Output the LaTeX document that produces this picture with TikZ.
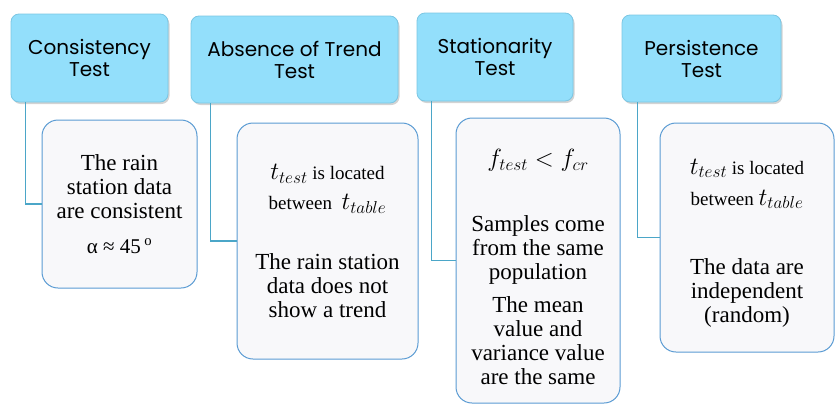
\documentclass[tikz,border=0pt]{standalone}
\usepackage{fontspec}
\setmainfont{Liberation Serif}
\newfontfamily\headfont{Poppins}
\usetikzlibrary{shadows}
\definecolor{headfill}{HTML}{93DFFB}
\definecolor{headline}{HTML}{7BC6E3}
\definecolor{leaffill}{HTML}{F8F8FA}
\definecolor{leafline}{HTML}{5A9BD3}
\definecolor{linkcol}{HTML}{4BA6C8}
\newcommand{\mathbig}[1]{{\fontsize{25}{25}\selectfont$#1$}}
\newcommand{\smalltxt}{\fontsize{19}{24}\selectfont}
\newcommand{\bodytxt}{\fontsize{23}{24}\selectfont}

\begin{document}
\begin{tikzpicture}[x=1pt,y=-1pt,
    every text node part/.style={align=center},
    test/.style={draw=headline,fill=headfill,rounded corners=8pt,line width=0.8pt,
      drop shadow={shadow xshift=1.5pt,shadow yshift=-2pt,opacity=0.35},
      inner sep=0pt,font=\headfont\fontsize{20}{22}\selectfont},
    result/.style={draw=leafline,fill=leaffill,rounded corners=16pt,line width=1pt,
      inner sep=0pt,font=\bodytxt},
    link/.style={draw=linkcol,line width=1.2pt}]
  \useasboundingbox (0,0) rectangle (835,407);

    % Test headers
  \node[test,minimum width=157pt,minimum height=88pt] (T1) at (89.5,58)
    {Consistency\\Test};
  \node[test,minimum width=207pt,minimum height=87pt] (T2) at (294.5,59.5)
    {Absence of Trend\\Test};
  \node[test,minimum width=156pt,minimum height=88pt] (T3) at (495,57)
    {Stationarity\\Test};
  \node[test,minimum width=159pt,minimum height=87pt] (T4) at (701.5,58.5)
    {Persistence\\Test};

    % Results
  \node[result,minimum width=155pt,minimum height=168pt] (R1) at (119.5,204)
    {The rain\\station data\\are consistent\\[11pt]
     \fontsize{21}{24}\selectfont α ≈ 45\,\textsuperscript{o}};
  \node[result,minimum width=181pt,minimum height=236pt] (R2) at (327.5,241)
    {\smalltxt\mathbig{t_{test}} is located\\[6pt]
     \smalltxt between\ \ \mathbig{t_{table}}\\[36pt]
     The rain station\\data does not\\show a trend};
  \node[result,minimum width=164pt,minimum height=285pt] (R3) at (538,260.5)
    {\rule{0pt}{30pt}\mathbig{f_{test} < f_{cr}}\\[41pt]
     Samples come\\from the same\\population\\[9pt]
     The mean\\value and\\variance value\\are the same};
  \node[result,minimum width=174pt,minimum height=229pt] (R4) at (747,237.5)
    {\rule{0pt}{26pt}\smalltxt\mathbig{t_{test}} is located\\[7pt]
     \smalltxt between \mathbig{t_{table}}\\[45pt]
     The data are\\independent\\(random)};

  \draw[link] ([xshift=15pt]T1.south west) |- (R1.west);
  \draw[link] ([xshift=20pt]T2.south west) |- (R2.west);
  \draw[link] ([xshift=15pt]T3.south west) |- (R3.west);
  \draw[link] ([xshift=16pt]T4.south west) |- (R4.west);

\end{tikzpicture}
\end{document}
